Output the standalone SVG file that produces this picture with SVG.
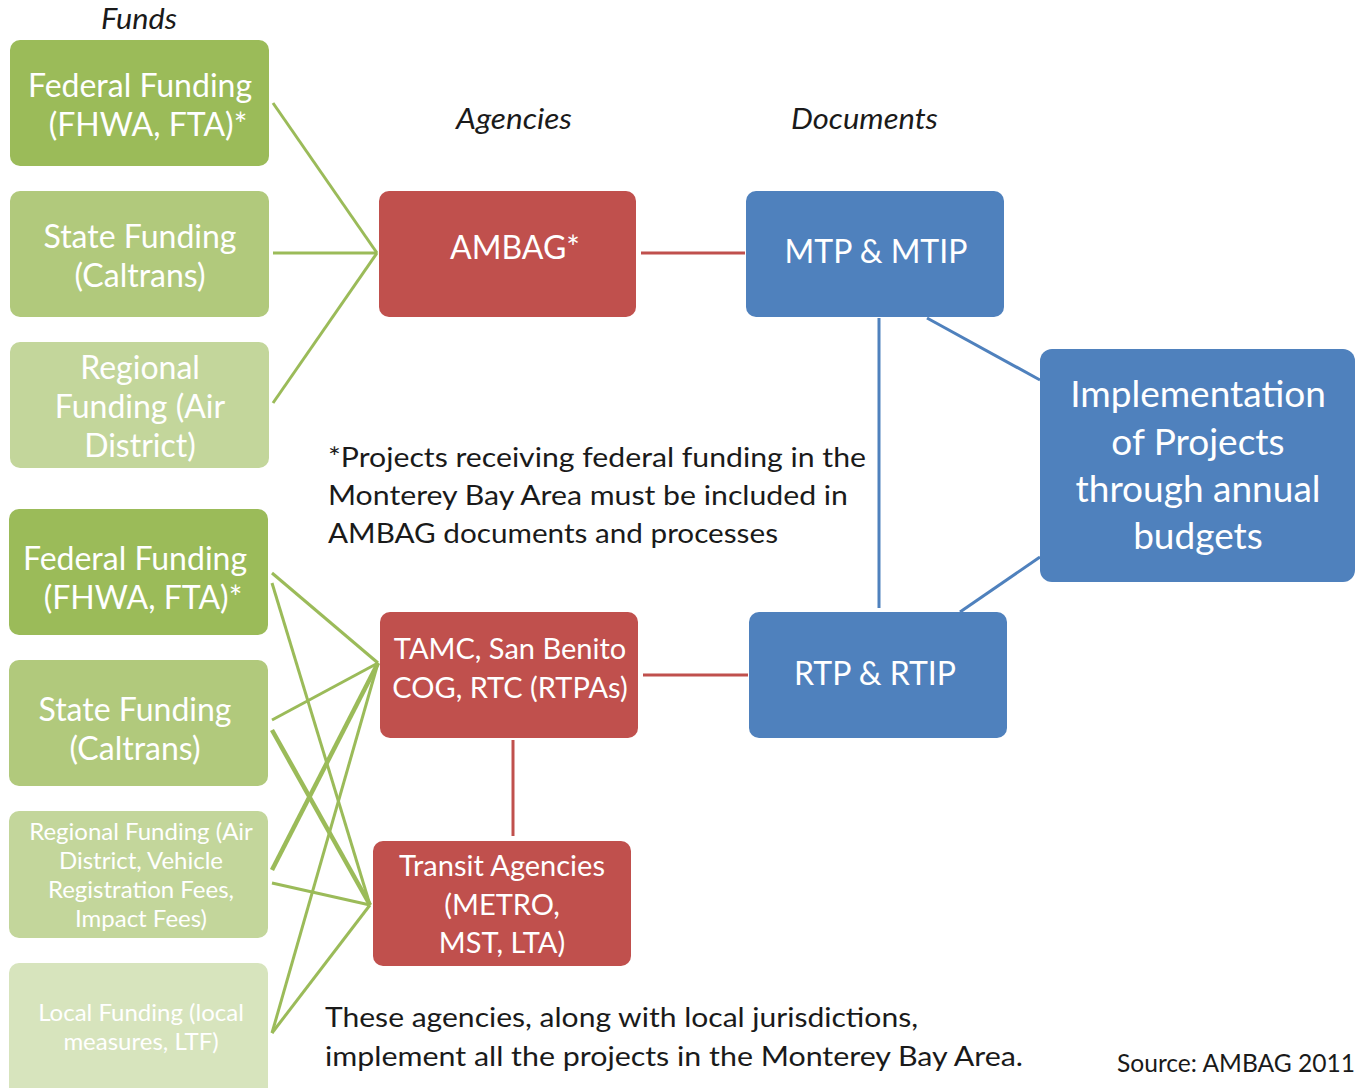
<svg xmlns="http://www.w3.org/2000/svg" width="1364" height="1088" viewBox="0 0 1364 1088">
<style>
text{font-family:Lato,"Liberation Sans",sans-serif;}
.nt{fill:#fff;text-anchor:middle;font-size:32px;}
.sm{font-size:24px;}
.md{font-size:29px;}
.lg{font-size:37px;}
.hd{font-style:italic;font-size:29px;fill:#1a1a1a;}
.bt{font-size:27px;fill:#1a1a1a;}
.g{stroke:#9bbb59;stroke-width:3;fill:none;}
.gt{stroke:#9bbb59;stroke-width:4.5;fill:none;}
.r{stroke:#c0504d;stroke-width:3;fill:none;}
.b{stroke:#4f81bd;stroke-width:3;fill:none;}
.red{fill:#c0504d;}
.blue{fill:#4f81bd;}
</style>
<rect width="1364" height="1088" fill="#fff"/>
<text class="hd" x="101" y="29" textLength="76" lengthAdjust="spacingAndGlyphs">Funds</text>
<text class="hd" x="456" y="129" textLength="116" lengthAdjust="spacingAndGlyphs">Agencies</text>
<text class="hd" x="791" y="129" textLength="147" lengthAdjust="spacingAndGlyphs">Documents</text>
<g id="connectors">
<line class="g" x1="273" y1="103" x2="377" y2="253"/>
<line class="g" x1="273" y1="253" x2="377" y2="253"/>
<line class="g" x1="273" y1="403" x2="377" y2="253"/>
<line class="g" x1="272" y1="573" x2="378" y2="663"/>
<line class="g" x1="272" y1="583" x2="370" y2="905"/>
<line class="g" x1="272" y1="720" x2="378" y2="663"/>
<line class="gt" x1="272" y1="730" x2="370" y2="905"/>
<line class="gt" x1="272" y1="870" x2="378" y2="663"/>
<line class="g" x1="272" y1="883" x2="370" y2="905"/>
<line class="g" x1="272" y1="1033" x2="378" y2="663"/>
<line class="g" x1="272" y1="1033" x2="370" y2="905"/>
<line class="r" x1="641" y1="253" x2="745" y2="253"/>
<line class="r" x1="643" y1="675" x2="748" y2="675"/>
<line class="r" x1="513" y1="740" x2="513" y2="836"/>
<line class="b" x1="879" y1="318" x2="879" y2="608"/>
<line class="b" x1="927" y1="318" x2="1040" y2="380"/>
<line class="b" x1="960" y1="612" x2="1040" y2="557"/>
</g>
<g id="fed1"><rect x="10" y="40" width="259" height="126" rx="10" fill="#9bbb59"/>
<text class="nt" x="140" y="97">Federal Funding</text><text class="nt" x="148" y="136">(FHWA, FTA)*</text></g>
<g id="state1"><rect x="10" y="191" width="259" height="126" rx="10" fill="#b1c97c"/>
<text class="nt" x="140" y="248">State Funding</text><text class="nt" x="140" y="287">(Caltrans)</text></g>
<g id="regional1"><rect x="10" y="342" width="259" height="126" rx="10" fill="#c3d69b"/>
<text class="nt" x="140" y="379">Regional</text><text class="nt" x="140" y="418">Funding (Air</text><text class="nt" x="140" y="457">District)</text></g>
<g id="fed2"><rect x="9" y="509" width="259" height="126" rx="10" fill="#9bbb59"/>
<text class="nt" x="135" y="570">Federal Funding</text><text class="nt" x="143" y="609">(FHWA, FTA)*</text></g>
<g id="state2"><rect x="9" y="660" width="259" height="126" rx="10" fill="#b1c97c"/>
<text class="nt" x="135" y="721">State Funding</text><text class="nt" x="135" y="760">(Caltrans)</text></g>
<g id="regional2"><rect x="9" y="811" width="259" height="127" rx="10" fill="#c3d69b"/>
<text class="nt sm" x="141" y="840">Regional Funding (Air</text><text class="nt sm" x="141" y="869">District, Vehicle</text><text class="nt sm" x="141" y="898">Registration Fees,</text><text class="nt sm" x="141" y="927">Impact Fees)</text></g>
<g id="local"><rect x="9" y="963" width="259" height="135" rx="10" fill="#d7e4bd"/>
<text class="nt sm" x="141" y="1021">Local Funding (local</text><text class="nt sm" x="141" y="1050">measures, LTF)</text></g>
<g id="ambag"><rect class="red" x="379" y="191" width="257" height="126" rx="10"/>
<text class="nt" x="515" y="259">AMBAG*</text></g>
<g id="mtp"><rect class="blue" x="746" y="191" width="258" height="126" rx="10"/>
<text class="nt" x="876" y="263">MTP &amp; MTIP</text></g>
<g id="tamc"><rect class="red" x="380" y="612" width="258" height="126" rx="10"/>
<text class="nt md" x="510" y="659">TAMC, San Benito</text><text class="nt md" x="510" y="698">COG, RTC (RTPAs)</text></g>
<g id="rtp"><rect class="blue" x="749" y="612" width="258" height="126" rx="10"/>
<text class="nt" x="875" y="685">RTP &amp; RTIP</text></g>
<g id="transit"><rect class="red" x="373" y="841" width="258" height="125" rx="10"/>
<text class="nt md" x="502" y="876">Transit Agencies</text><text class="nt md" x="502" y="915">(METRO,</text><text class="nt md" x="502" y="953">MST, LTA)</text></g>
<g id="impl"><rect class="blue" x="1040" y="349" width="315" height="233" rx="12"/>
<text class="nt lg" x="1198" y="407">Implementation</text><text class="nt lg" x="1198" y="455">of Projects</text><text class="nt lg" x="1198" y="502">through annual</text><text class="nt lg" x="1198" y="549">budgets</text></g>
<text class="bt" x="328" y="467" textLength="538" lengthAdjust="spacingAndGlyphs">*Projects receiving federal funding in the</text>
<text class="bt" x="328" y="505" textLength="520" lengthAdjust="spacingAndGlyphs">Monterey Bay Area must be included in</text>
<text class="bt" x="328" y="543" textLength="450" lengthAdjust="spacingAndGlyphs">AMBAG documents and processes</text>
<text class="bt" x="325" y="1027" textLength="593" lengthAdjust="spacingAndGlyphs">These agencies, along with local jurisdictions,</text>
<text class="bt" x="325" y="1066" textLength="698" lengthAdjust="spacingAndGlyphs">implement all the projects in the Monterey Bay Area.</text>
<text class="bt" x="1117" y="1072" style="font-size:25px" textLength="238" lengthAdjust="spacingAndGlyphs">Source: AMBAG 2011</text>
</svg>
